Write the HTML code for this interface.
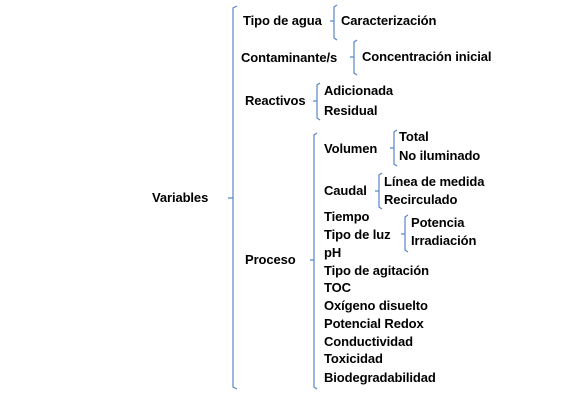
<!DOCTYPE html>
<html><head><meta charset="utf-8"><style>
body{margin:0;width:567px;height:406px;background:#fff;position:relative;overflow:hidden;font-family:"Liberation Sans",sans-serif;}
.t{position:absolute;font-size:13px;font-weight:bold;color:#000;letter-spacing:-0.1px;white-space:nowrap;line-height:14px;transform:translateY(-7px);}
svg{position:absolute;left:0;top:0}
</style></head><body>
<svg width="567" height="406" fill="none" stroke="#5b87c5" stroke-width="1.2">
<path d="M237,6 L233,8 L233,387 L237,389 M233,198 L228,198"/>
<path d="M337,5 L334,7 L334,38 L337,40 M334,21 L330,21"/>
<path d="M357,40 L354,42 L354,73 L357,75 M354,57 L350,57"/>
<path d="M320,83 L317,85 L317,118 L320,120 M317,101 L313,101"/>
<path d="M317,133 L314,135 L314,387 L317,389 M314,260 L310,260"/>
<path d="M397,130 L394,132 L394,164 L397,166 M394,148 L390,148"/>
<path d="M382,173 L379,175 L379,207 L382,209 M379,191 L375,191"/>
<path d="M408,215 L405,217 L405,250 L408,252 M405,234 L401,234"/>
</svg>
<div class="t" style="left:152px;top:198px">Variables</div>
<div class="t" style="left:243px;top:21px">Tipo de agua</div>
<div class="t" style="left:341px;top:21px">Caracterización</div>
<div class="t" style="left:241px;top:58px">Contaminante/s</div>
<div class="t" style="left:362px;top:57px">Concentración inicial</div>
<div class="t" style="left:245px;top:101px">Reactivos</div>
<div class="t" style="left:324px;top:91px">Adicionada</div>
<div class="t" style="left:324px;top:111px">Residual</div>
<div class="t" style="left:324px;top:149px">Volumen</div>
<div class="t" style="left:399px;top:137px">Total</div>
<div class="t" style="left:399px;top:156px">No iluminado</div>
<div class="t" style="left:324px;top:191px">Caudal</div>
<div class="t" style="left:384px;top:182px">Línea de medida</div>
<div class="t" style="left:384px;top:200px">Recirculado</div>
<div class="t" style="left:324px;top:217px">Tiempo</div>
<div class="t" style="left:324px;top:235px">Tipo de luz</div>
<div class="t" style="left:324px;top:253px">pH</div>
<div class="t" style="left:411px;top:223px">Potencia</div>
<div class="t" style="left:411px;top:241px">Irradiación</div>
<div class="t" style="left:245px;top:260px">Proceso</div>
<div class="t" style="left:324px;top:271px">Tipo de agitación</div>
<div class="t" style="left:324px;top:288px">TOC</div>
<div class="t" style="left:324px;top:306px">Oxígeno disuelto</div>
<div class="t" style="left:324px;top:324px">Potencial Redox</div>
<div class="t" style="left:324px;top:342px">Conductividad</div>
<div class="t" style="left:324px;top:359px">Toxicidad</div>
<div class="t" style="left:324px;top:378px">Biodegradabilidad</div>
</body></html>
